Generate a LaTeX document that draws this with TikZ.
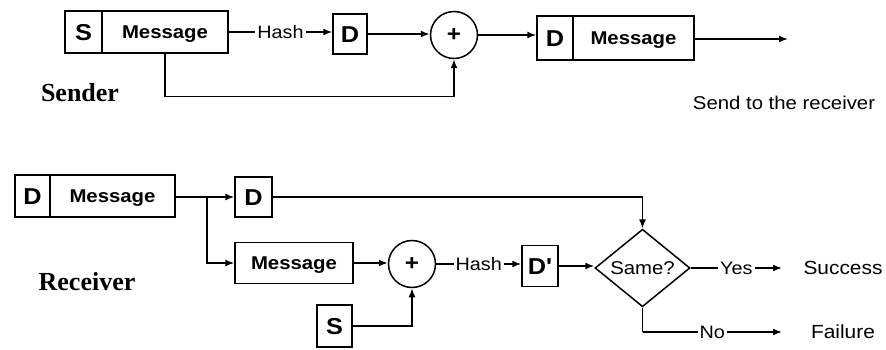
\documentclass[tikz,border=0pt]{standalone}
\usepackage{fontspec}
\setmainfont{Liberation Serif}
\newfontfamily\sanf{Liberation Sans}[FakeStretch=1.1]
\usetikzlibrary{arrows.meta,shapes.geometric}
\newcommand\myfs[1]{\fontsize{#1}{#1}\selectfont}
\tikzset{
  box/.style={draw, line width=1.5pt, rectangle, inner sep=0pt, text height=13.3pt, text depth=0pt, font=\sanf\bfseries\myfs{18.5}},
  letterbox/.style={box, text height=16.5pt, font=\sanf\bfseries\myfs{23}},
  sumnode/.style={draw, line width=1.5pt, circle, inner sep=0pt, minimum size=47pt, font=\sanf\bfseries\myfs{22}},
  arr/.style={line width=1.5pt, -{Latex[length=9pt,width=7pt]}},
  ln/.style={line width=1.5pt},
  lbl/.style={fill=white, inner xsep=2pt, inner ysep=1pt, font=\sanf\myfs{18}},
  plain/.style={font=\sanf\myfs{18.5}},
  role/.style={font=\rmfamily\bfseries\myfs{26}}
}
\begin{document}
\begin{tikzpicture}[x=1pt,y=-1pt]
\useasboundingbox (0,0) rectangle (886,350);
% ---------- Sender ----------
\node[letterbox, minimum width=37pt, minimum height=42pt] (s1) at (83.5,32) {S};
\node[box, minimum width=126pt, minimum height=42pt] (m1) at (165,32) {Message};
\node[letterbox, minimum width=34pt, minimum height=40pt] (d1) at (350,34) {D};
\node[sumnode] (c1) at (454,35) {+};
\node[letterbox, minimum width=36pt, minimum height=44pt] (db) at (555,38) {D};
\node[box, minimum width=121pt, minimum height=44pt] (mb) at (633.5,38) {Message};
\coordinate (sendend) at (788,39);
\node[role] (sender) at (80,93) {Sender};
\node[plain] (sendto) at (784,103) {Send to the receiver};

\draw[arr] (m1.east) -- node[lbl]{Hash} (m1.east -| d1.west);
\draw[arr] (d1.east) -- (d1.east -| c1.west);
\draw[arr] (m1.south) -- ++(0,43) -| (c1.south);
\draw[arr] (c1.east) -- (c1.east -| db.west);
\draw[arr] (mb.east |- sendend) -- (sendend);

% ---------- Receiver ----------
\node[letterbox, minimum width=35pt, minimum height=42pt] (dr) at (32.5,196) {D};
\node[box, minimum width=125pt, minimum height=42pt] (mr) at (112.5,196) {Message};
\node[letterbox, minimum width=37pt, minimum height=40pt] (d2) at (253.5,197) {D};
\coordinate (j) at (207,197);
\node[box, minimum width=118pt, minimum height=41pt] (m2) at (294,263) {Message};
\node[sumnode] (c2) at (412,264) {+};
\node[letterbox, minimum width=35pt, minimum height=42pt] (s2) at (334.5,326) {S};
\node[letterbox, minimum width=36pt, minimum height=41pt] (d3) at (540,266) {D'};
\node[draw, line width=1.5pt, diamond, inner sep=0pt, minimum width=95pt, minimum height=60pt, font=\sanf\myfs{18.5}] (dia) at (642.5,268) {Same?};
\coordinate (yesend) at (782,268);
\coordinate (nocorner) at (642.5,332);
\coordinate (noend) at (782,332);
\node[plain, font=\sanf\myfs{19}] (succ) at (843,268) {Success};
\node[plain, font=\sanf\myfs{19}] (fail) at (843,332) {Failure};
\node[role] (receiver) at (87,282) {Receiver};

\draw[arr] (mr.east |- j) -- (j -| d2.west);
\draw[arr] (j) |- (m2.west);
\draw[arr] (d2.east) -| (dia.north);
\draw[arr] (m2.east) -- (m2.east -| c2.west);
\draw[arr] (s2.east) -| (c2.south);
\draw[arr] (c2.east) -- node[lbl]{Hash} (c2.east -| d3.west);
\draw[arr] (d3.east) -- (d3.east -| dia.west);
\draw[arr] (dia.east) -- node[lbl]{Yes} (yesend);
\draw[ln] (dia.south) -- (nocorner);
\draw[arr] (nocorner) -- node[lbl]{No} (noend);
\end{tikzpicture}
\end{document}
